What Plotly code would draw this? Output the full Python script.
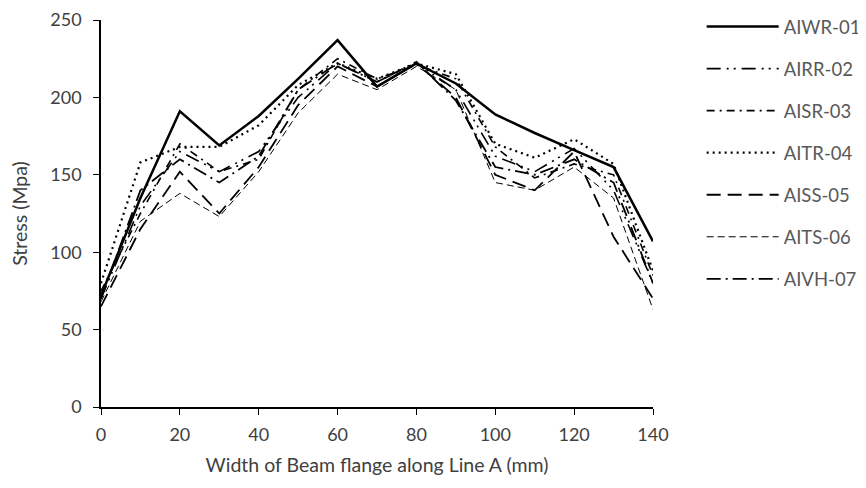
import plotly.graph_objects as go

x_vals = [0, 10, 20, 30, 40, 50, 60, 70, 80, 90, 100, 110, 120, 130, 140]

series_names = ["AIWR-01", "AIRR-02", "AISR-03", "AITR-04", "AISS-05", "AITS-06", "AIVH-07"]

aiwr_01 = [72, 135, 191, 169, 188, 212, 237, 207, 222, 209, 189, 177, 166, 155, 107]
airr_02 = [70, 130, 165, 152, 165, 200, 222, 210, 222, 205, 162, 152, 167, 140, 80]
aisr_03 = [75, 125, 170, 152, 160, 205, 225, 212, 221, 212, 168, 148, 157, 150, 85]
aitr_04 = [80, 158, 168, 168, 182, 208, 222, 212, 222, 215, 170, 161, 173, 157, 88]
aiss_05 = [65, 115, 152, 125, 155, 195, 220, 207, 222, 200, 150, 140, 165, 110, 70]
aits_06 = [68, 120, 138, 123, 152, 190, 215, 205, 220, 205, 145, 140, 155, 135, 63]
aivh_07 = [70, 140, 160, 145, 162, 205, 222, 210, 223, 198, 155, 150, 160, 145, 80]

values = [aiwr_01, airr_02, aisr_03, aitr_04, aiss_05, aits_06, aivh_07]
dashes = ["solid", "14px,6px,2px,5px,2px,6px", "8px,5px,2px,5px", "2px,4px",
          "14px,7px", "7px,4px", "14px,5px,2px,5px"]
widths = [2.5, 1.6, 1.6, 2.2, 1.8, 1.0, 1.8]

FONT = "Lato"
TXT = "#595959"
AX = "#404040"

fig = go.Figure()
for name, v, d, w in zip(series_names, values, dashes, widths):
    fig.add_trace(go.Scatter(x=x_vals, y=v, mode="lines", name=name, legendgroup=name,
                             line=dict(color="black", width=w, dash=d)))

fig.update_layout(
    width=866, height=488,
    margin=dict(l=93, r=221, t=12, b=89),
    paper_bgcolor="white", plot_bgcolor="white",
    font=dict(family=FONT, size=16, color=TXT),
    showlegend=True,
    legend=dict(x=0.801, xref="container", y=1.0, yref="container",
                xanchor="left", yanchor="top", maxheight=470,
                font=dict(family=FONT, size=18.5, color=TXT),
                tracegroupgap=15, itemwidth=72, bgcolor="rgba(0,0,0,0)",
                borderwidth=0),
)
fig.update_xaxes(range=[0, 140], tickvals=list(range(0, 141, 20)), automargin=False,
                 showgrid=False, zeroline=False, showline=True, linecolor="black",
                 linewidth=1.5, ticks="outside", ticklen=6, tickcolor="black",
                 ticklabelstandoff=5,
                 tickfont=dict(family=FONT, size=18, color=AX),
                 title=dict(text="Width of Beam flange along Line A (mm)",
                            font=dict(family=FONT, size=19.5, color=AX), standoff=14))
fig.update_yaxes(range=[0, 250], tickvals=list(range(0, 251, 50)), automargin=False,
                 showgrid=False, zeroline=False, showline=True, linecolor="black",
                 linewidth=1.5, ticks="outside", ticklen=6, tickcolor="black",
                 ticklabelstandoff=8,
                 tickfont=dict(family=FONT, size=18, color=AX),
                 title=dict(text="Stress (Mpa)",
                            font=dict(family=FONT, size=19.5, color=AX), standoff=21))

fig.write_html("out.html")
